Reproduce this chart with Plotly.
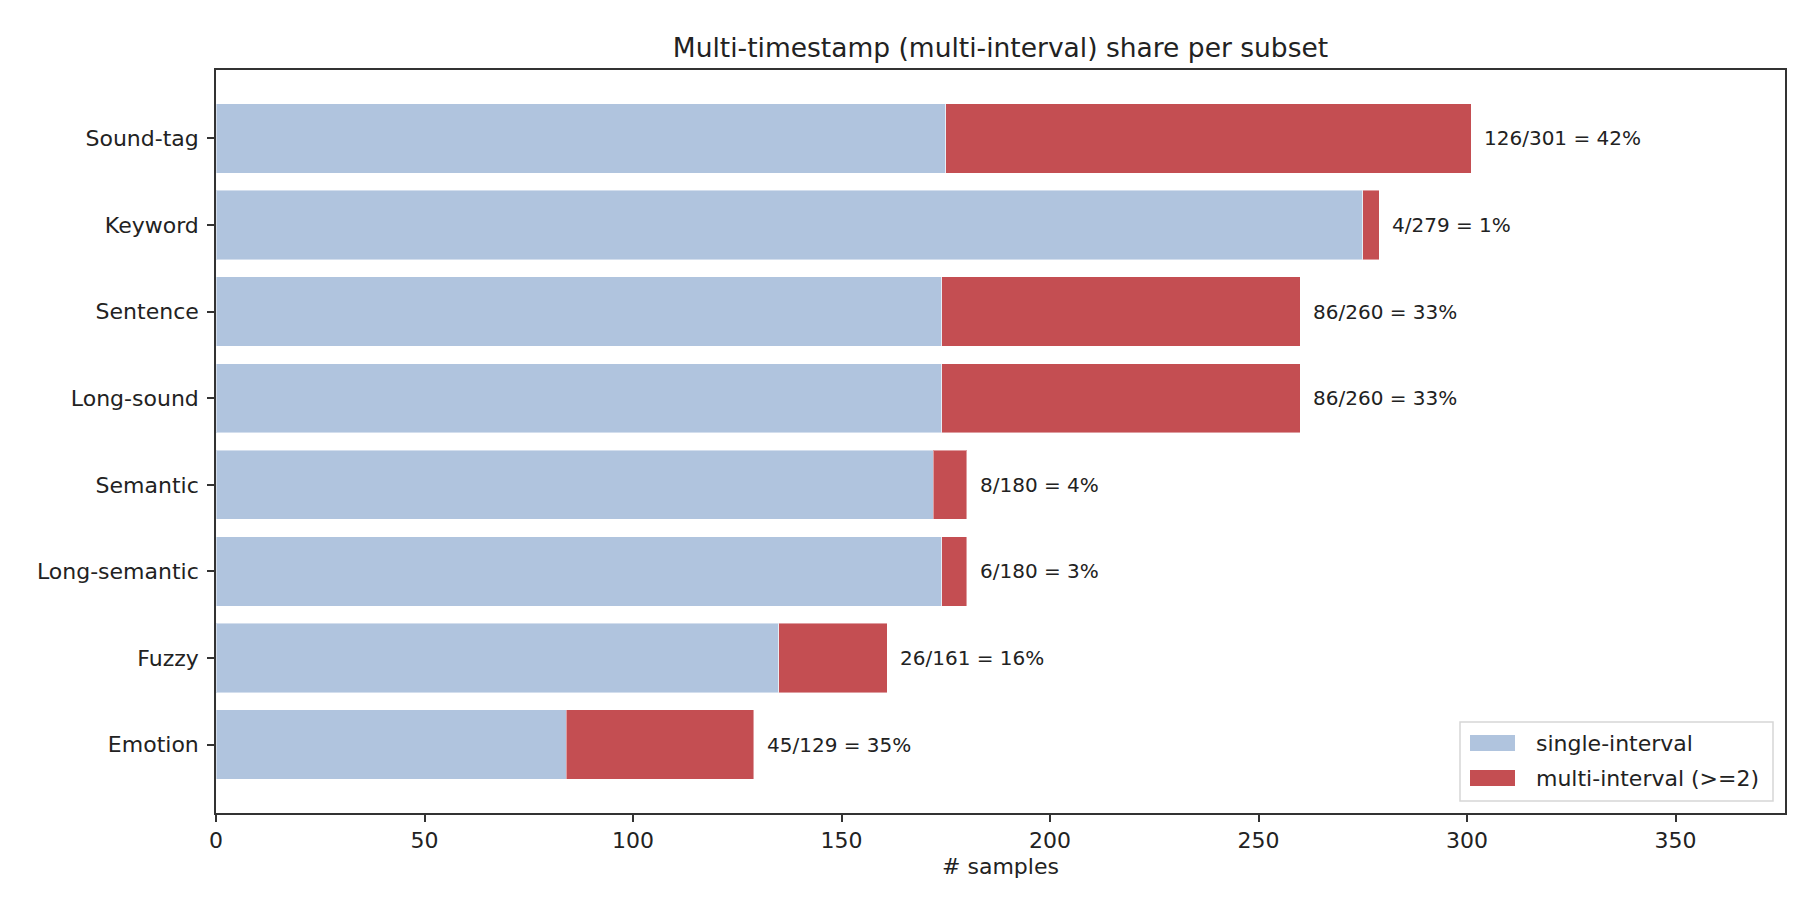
import plotly.graph_objects as go

# subsets, top to bottom as drawn
subsets = ["Sound-tag", "Keyword", "Sentence", "Long-sound",
           "Semantic", "Long-semantic", "Fuzzy", "Emotion"]
single_counts = [175, 275, 174, 174, 172, 174, 135, 84]
multi_counts = [126, 4, 86, 86, 8, 6, 26, 45]
x_ticks = [0, 50, 100, 150, 200, 250, 300, 350]
series_names = ["single-interval", "multi-interval (>=2)"]
series_colors = ["#b0c4de", "#c44e52"]

totals = [s + m for s, m in zip(single_counts, multi_counts)]
font = "DejaVu Sans"
W, H = 1800, 900
L, R, T, B = 208, 23, 62, 95
pw, ph = W - L - R, H - T - B

fig = go.Figure()
for name, vals, col in zip(series_names, [single_counts, multi_counts], series_colors):
    fig.add_trace(go.Bar(
        y=subsets, x=vals, orientation="h", width=0.8, name=name,
        marker=dict(color=col, line=dict(color="rgba(255,255,255,0.45)", width=1)),
        showlegend=False,
    ))

# "m/total = pct%" labels right of each bar
for name, m, t in zip(subsets, multi_counts, totals):
    fig.add_annotation(
        x=t, y=name, text=f"{m}/{t} = {round(100 * m / t)}%",
        showarrow=False, xanchor="left", xshift=11,
        font=dict(family=font, size=20, color="#222"),
    )

# matplotlib-style legend box (lower right), placed in pixel terms
def px(x):
    return (x - L) / pw

def py(y):
    return (H - B - y) / ph

shapes = [dict(type="rect", xref="paper", yref="paper",
               x0=px(1452), x1=px(1765), y0=py(793), y1=py(714),
               fillcolor="rgba(255,255,255,0.8)", line=dict(color="#d6d6d6", width=1.5))]
for i, (name, col) in enumerate(zip(series_names, series_colors)):
    yc = 735 + i * 35
    shapes.append(dict(type="rect", xref="paper", yref="paper",
                       x0=px(1462), x1=px(1507), y0=py(yc + 8), y1=py(yc - 8),
                       fillcolor=col, line=dict(width=0)))
    fig.add_annotation(xref="paper", yref="paper", x=px(1526), y=py(yc),
                       text=name, showarrow=False, xanchor="left", yanchor="middle",
                       font=dict(family=font, size=22, color="#222"))

axis_line = dict(showline=True, linecolor="#333", linewidth=1.6, mirror=True,
                 ticks="outside", ticklen=7, tickwidth=1.6, tickcolor="#333",
                 showgrid=False, zeroline=False)

fig.update_layout(
    width=W, height=H,
    barmode="stack",
    plot_bgcolor="white", paper_bgcolor="white",
    margin=dict(l=L, r=R, t=T, b=B),
    shapes=shapes,
    title=dict(text="Multi-timestamp (multi-interval) share per subset",
               x=(L + W - R) / 2 / W, xanchor="center",
               y=1 - 40 / H, yanchor="middle",
               font=dict(family=font, size=26.5, color="#222")),
    font=dict(family=font, size=22, color="#222"),
    xaxis=dict(range=[0, max(totals) * 1.25], tickvals=x_ticks,
               title=dict(text="# samples", font=dict(size=22), standoff=6),
               tickfont=dict(size=22), **axis_line),
    yaxis=dict(range=[len(subsets) - 1 + 0.79, -0.79], type="category",
               tickfont=dict(size=22), ticklabelstandoff=4, **axis_line),
    showlegend=False,
)

fig.write_html("out.html")
